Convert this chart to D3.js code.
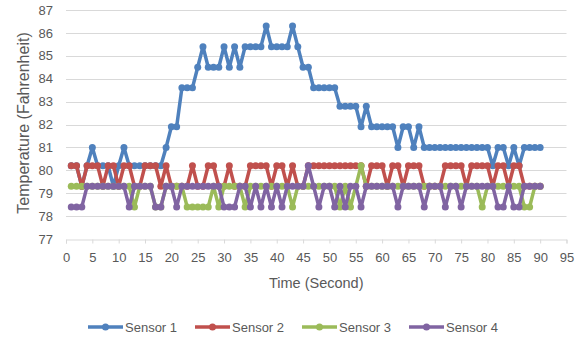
<!DOCTYPE html>
<html><head><meta charset="utf-8">
<script src="https://cdn.jsdelivr.net/npm/d3@7"></script>
<style>body{margin:0;background:#fff}svg{display:block}</style>
</head><body><svg id="c" width="586" height="342"></svg>
<script>
const seconds = [1,2,3,4,5,6,7,8,9,10,11,12,13,14,15,16,17,18,19,20,21,22,23,24,25,26,27,28,29,30,31,32,33,34,35,36,37,38,39,40,41,42,43,44,45,46,47,48,49,50,51,52,53,54,55,56,57,58,59,60,61,62,63,64,65,66,67,68,69,70,71,72,73,74,75,76,77,78,79,80,81,82,83,84,85,86,87,88,89,90];
const sensor1 = [80.2,80.2,79.3,80.2,81.0,80.2,80.2,80.2,79.3,80.2,
81.0,80.2,80.2,80.2,80.2,80.2,80.2,80.2,81.0,81.9,
81.9,83.6,83.6,83.6,84.5,85.4,84.5,84.5,84.5,85.4,
84.5,85.4,84.5,85.4,85.4,85.4,85.4,86.3,85.4,85.4,
85.4,85.4,86.3,85.4,84.5,84.5,83.6,83.6,83.6,83.6,
83.6,82.8,82.8,82.8,82.8,81.9,82.8,81.9,81.9,81.9,
81.9,81.9,81.0,81.9,81.9,81.0,81.9,81.0,81.0,81.0,
81.0,81.0,81.0,81.0,81.0,81.0,81.0,81.0,81.0,81.0,
80.2,81.0,81.0,80.2,81.0,80.2,81.0,81.0,81.0,81.0];
const sensor2 = [80.2,80.2,79.3,80.2,80.2,80.2,79.3,80.2,80.2,79.3,
80.2,80.2,79.3,79.3,80.2,80.2,80.2,79.3,80.2,79.3,
79.3,79.3,79.3,80.2,79.3,79.3,80.2,80.2,79.3,79.3,
80.2,79.3,79.3,79.3,80.2,80.2,80.2,80.2,79.3,80.2,
80.2,79.3,80.2,79.3,79.3,80.2,80.2,80.2,80.2,80.2,
80.2,80.2,80.2,80.2,80.2,80.2,79.3,80.2,80.2,80.2,
79.3,80.2,80.2,79.3,80.2,80.2,80.2,79.3,79.3,79.3,
79.3,80.2,80.2,80.2,80.2,79.3,80.2,80.2,80.2,80.2,
79.3,80.2,80.2,79.3,80.2,80.2,79.3,79.3,79.3,79.3];
const sensor3 = [79.3,79.3,79.3,79.3,79.3,79.3,79.3,79.3,79.3,79.3,
79.3,79.3,78.4,79.3,79.3,79.3,78.4,78.4,79.3,79.3,
79.3,79.3,78.4,78.4,78.4,78.4,78.4,79.3,78.4,79.3,
79.3,79.3,79.3,78.4,79.3,79.3,79.3,79.3,79.3,79.3,
79.3,79.3,78.4,79.3,79.3,79.3,79.3,79.3,79.3,79.3,
79.3,78.4,79.3,78.4,79.3,80.2,79.3,79.3,79.3,79.3,
79.3,79.3,79.3,79.3,79.3,79.3,79.3,79.3,79.3,79.3,
79.3,79.3,79.3,79.3,79.3,79.3,79.3,79.3,78.4,79.3,
79.3,79.3,79.3,79.3,79.3,79.3,78.4,78.4,79.3,79.3];
const sensor4 = [78.4,78.4,78.4,79.3,79.3,79.3,79.3,79.3,79.3,79.3,
79.3,78.4,79.3,79.3,79.3,79.3,78.4,78.4,79.3,79.3,
78.4,79.3,79.3,79.3,79.3,79.3,79.3,79.3,79.3,78.4,
78.4,78.4,79.3,79.3,78.4,79.3,78.4,79.3,78.4,79.3,
78.4,79.3,79.3,79.3,79.3,80.2,79.3,78.4,79.3,79.3,
78.4,79.3,78.4,79.3,79.3,78.4,79.3,79.3,79.3,79.3,
79.3,79.3,78.4,79.3,79.3,79.3,79.3,78.4,79.3,79.3,
79.3,78.4,79.3,79.3,78.4,79.3,79.3,79.3,79.3,79.3,
79.3,78.4,78.4,79.3,78.4,78.4,79.3,79.3,79.3,79.3];
const seriesNames = ["Sensor 1","Sensor 2","Sensor 3","Sensor 4"];
const xTicks = [0,5,10,15,20,25,30,35,40,45,50,55,60,65,70,75,80,85,90,95];
const yTicks = [77,78,79,80,81,82,83,84,85,86,87];
const colors = ["#4F81BD","#C0504D","#9BBB59","#8064A2"];

const allSeries = [sensor1, sensor2, sensor3, sensor4];
const font = "'Liberation Sans', Arial, sans-serif";
const svg = d3.select("#c");
const x = d3.scaleLinear().domain([0,95]).range([66,566.5]);
const y = d3.scaleLinear().domain([77,87]).range([239,10]);

// gridlines
svg.append("g").selectAll("line").data(yTicks.slice(1)).join("line")
  .attr("x1", x(0)).attr("x2", x(95))
  .attr("y1", d=>Math.round(y(d))+0.5).attr("y2", d=>Math.round(y(d))+0.5)
  .attr("stroke","#d9d9d9").attr("stroke-width",1);

// x axis
const xAxis = svg.append("g").attr("transform",`translate(0,${Math.round(y(77))+0.5})`)
  .call(d3.axisBottom(x).tickValues(xTicks).tickSize(4).tickPadding(9));
xAxis.select(".domain").attr("stroke","#d9d9d9");
xAxis.selectAll(".tick line").attr("stroke","#d9d9d9");
xAxis.selectAll("text").attr("fill","#595959").style("font-family",font).style("font-size","13px");

// y axis labels
const yAxis = svg.append("g").attr("transform",`translate(${x(0)},0)`)
  .call(d3.axisLeft(y).tickValues(yTicks).tickSize(0).tickPadding(13));
yAxis.select(".domain").remove();
yAxis.selectAll("text").attr("fill","#595959").style("font-family",font).style("font-size","13px");

// titles
svg.append("text").attr("transform","translate(23,123) rotate(-90)").attr("text-anchor","middle")
  .attr("dy","0.35em").attr("fill","#595959").style("font-family",font).style("font-size","16px")
  .text("Temperature (Fahrenheit)");
svg.append("text").attr("x",(x(0)+x(95))/2).attr("y",288).attr("text-anchor","middle")
  .attr("fill","#595959").style("font-family",font).style("font-size","14.5px").text("Time (Second)");

// series
const line = d3.line().x((d,i)=>x(seconds[i])).y(d=>y(d));
allSeries.forEach((s,k)=>{
  const g = svg.append("g");
  g.append("path").datum(s).attr("d",line).attr("fill","none")
    .attr("stroke",colors[k]).attr("stroke-width",3.5).attr("stroke-linejoin","round");
  g.selectAll("circle").data(s).join("circle")
    .attr("cx",(d,i)=>x(seconds[i])).attr("cy",d=>y(d)).attr("r",3.5).attr("fill",colors[k]);
});

// legend
const legX = [88, 195, 302, 409];
const leg = svg.append("g");
seriesNames.forEach((n,k)=>{
  const lx = legX[k];
  leg.append("line").attr("x1",lx).attr("x2",lx+35).attr("y1",327).attr("y2",327)
    .attr("stroke",colors[k]).attr("stroke-width",3.5);
  leg.append("circle").attr("cx",lx+17.5).attr("cy",327).attr("r",3.5).attr("fill",colors[k]);
  leg.append("text").attr("x",lx+37).attr("y",327).attr("dy","0.35em").attr("fill","#595959")
    .style("font-family",font).style("font-size","13px").text(n);
});
</script></body></html>
